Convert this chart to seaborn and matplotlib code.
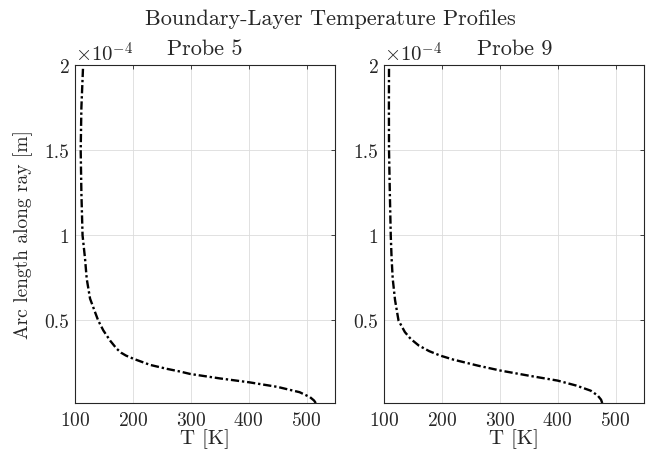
import numpy as np
import pandas as pd
import matplotlib
matplotlib.use("Agg")
import matplotlib.pyplot as plt
import seaborn as sns
from matplotlib.ticker import FuncFormatter, FixedLocator

sns.set_style("whitegrid")
plt.rcParams["font.family"] = ["cmr10", "DejaVu Serif"]
plt.rcParams["mathtext.fontset"] = "cm"
plt.rcParams["axes.formatter.use_mathtext"] = True

# Probe 5: arc length along ray (units of 1e-4 m) and temperature (K)
s5_e4 = [2.0, 1.75, 1.5, 1.25, 1.0, 0.863, 0.745, 0.628, 0.549, 0.5, 0.441, 0.382,
         0.334, 0.31, 0.294, 0.275, 0.239, 0.216, 0.2, 0.186, 0.16, 0.137, 0.11, 0.079,
         0.05, 0.03, 0.015]
T5 = [114, 111, 109.8, 111, 113, 117.3, 120.2, 126, 134.6, 140, 149, 160.6,
      172, 180, 188, 201, 230, 258.8, 281.8, 299, 350, 401, 450, 488,
      506, 513, 516]

# Probe 9
s9_e4 = [2.0, 1.75, 1.5, 1.25, 1.0, 0.87, 0.745, 0.62, 0.5, 0.432, 0.392, 0.353,
         0.32, 0.294, 0.27, 0.255, 0.235, 0.206, 0.176, 0.147, 0.118, 0.088,
         0.06, 0.035, 0.015]
T9 = [108.6, 108.4, 108.6, 110, 111.6, 113, 115, 119, 125, 136, 146, 160,
      178, 197, 220, 238, 262, 301, 350, 400, 432, 457,
      469, 475, 477]

probes = ["Probe 5", "Probe 9"]
x_ticks = [100, 200, 300, 400, 500]
y_ticks_e4 = [0.5, 1, 1.5, 2]

df = pd.concat([
    pd.DataFrame({"s": np.array(s5_e4) * 1e-4, "T": T5, "probe": probes[0]}),
    pd.DataFrame({"s": np.array(s9_e4) * 1e-4, "T": T9, "probe": probes[1]}),
])

fig = plt.figure(figsize=(6.61, 4.52), dpi=100)
ax1 = fig.add_axes([0.1135, 0.106, 0.394, 0.748])
ax2 = fig.add_axes([0.581, 0.106, 0.394, 0.748])

txt = "#262626"
for ax, name in zip([ax1, ax2], probes):
    sub = df[df["probe"] == name]
    sns.lineplot(data=sub, x="T", y="s", orient="y", ax=ax, color="black",
                 linestyle=(0, (3.5, 1.2, 1.0, 1.2)), linewidth=1.7,
                 estimator=None, sort=True)
    ax.set_xlim(100, 550)
    ax.set_ylim(1.5e-6, 2e-4)
    ax.xaxis.set_major_locator(FixedLocator(x_ticks))
    ax.yaxis.set_major_locator(FixedLocator([v * 1e-4 for v in y_ticks_e4]))
    ax.yaxis.set_major_formatter(FuncFormatter(lambda v, p: f"{v / 1e-4:g}"))
    ax.tick_params(direction="in", top=True, right=True, length=3, width=0.6,
                   labelsize=14, colors=txt)
    ax.tick_params(axis="x", pad=6)
    ax.tick_params(axis="y", pad=4)
    ax.grid(True, color="#dcdcdc", linewidth=0.6)
    for sp in ax.spines.values():
        sp.set_color(txt)
        sp.set_linewidth(0.8)
        sp.set_visible(True)
    ax.set_title(name, fontsize=16, pad=8, color=txt)
    ax.set_xlabel("T [K]", fontsize=15, labelpad=-1, color=txt)
    ax.set_ylabel("")
    ax.text(0.0, 1.0, r"$\times10^{-4}$", transform=ax.transAxes, fontsize=15,
            ha="left", va="bottom", color=txt)

ax1.set_ylabel("Arc length along ray [m]", fontsize=14, color=txt, labelpad=8)
fig.suptitle("Boundary-Layer Temperature Profiles", fontsize=16, y=0.98, color=txt)

fig.savefig("out.png", dpi=100)
